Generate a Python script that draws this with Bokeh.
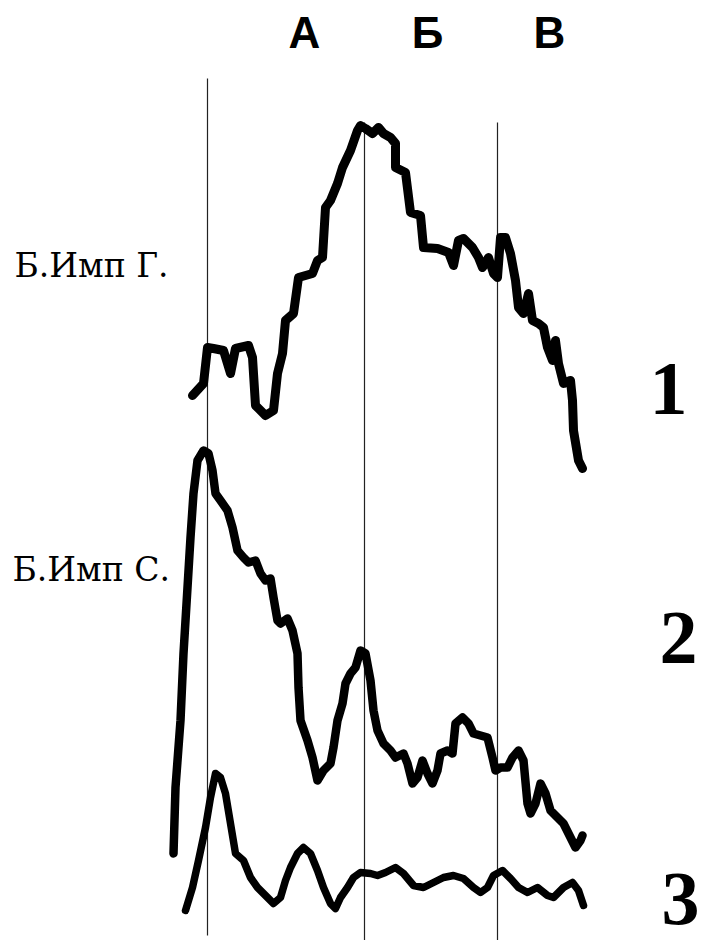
from bokeh.plotting import figure
from bokeh.models import Range1d
from bokeh.embed import file_html
from bokeh.resources import INLINE
from bokeh.core.properties import value

curve1_x = [192, 203, 207, 213, 223, 230, 235, 248, 252, 255, 265, 273, 277, 282, 285, 293, 298, 312, 317, 322,
            325, 330, 337, 342, 350, 357, 360, 365, 372, 378, 383, 390, 395, 395, 405, 410, 420, 423, 437, 448,
            453, 458, 463, 472, 478, 482, 488, 493, 497, 500, 505, 510, 515, 518, 523, 528, 532, 538, 543, 547,
            552, 555, 558, 563, 570, 572, 573, 578, 582]
curve1_y = [395, 383, 347, 348, 350, 373, 348, 345, 357, 405, 415, 410, 373, 353, 320, 313, 277, 273, 260, 257,
            207, 200, 183, 167, 150, 130, 125, 128, 133, 127, 133, 137, 143, 167, 172, 212, 215, 247, 248, 252,
            265, 240, 238, 247, 257, 267, 257, 273, 277, 237, 237, 253, 280, 307, 313, 293, 320, 323, 327, 347,
            360, 340, 363, 383, 380, 400, 430, 460, 468]

curve2_x = [173, 175, 180, 183, 187, 190, 193, 197, 203, 208, 212, 215, 220, 227, 232, 237, 243, 248, 255, 260,
            265, 270, 273, 277, 280, 287, 292, 297, 298, 300, 307, 312, 317, 323, 330, 333, 337, 342, 345, 350,
            355, 360, 365, 370, 373, 377, 383, 390, 395, 403, 407, 412, 417, 422, 427, 432, 437, 440, 447, 452,
            455, 462, 468, 473, 480, 487, 492, 495, 500, 507, 512, 518, 523, 527, 530, 535, 540, 545, 550, 557,
            563, 568, 575, 580, 582]
curve2_y = [853, 787, 720, 653, 587, 537, 493, 460, 450, 453, 470, 493, 500, 510, 527, 550, 557, 562, 560, 573,
            580, 578, 597, 620, 623, 618, 630, 653, 687, 720, 740, 757, 780, 770, 763, 747, 720, 703, 683, 673,
            667, 650, 653, 680, 710, 730, 743, 750, 757, 753, 763, 783, 777, 760, 773, 783, 770, 753, 750, 753,
            723, 717, 723, 733, 735, 737, 757, 770, 767, 767, 757, 750, 760, 803, 813, 803, 783, 793, 810, 817,
            823, 833, 847, 840, 835]

curve3_x = [185, 192, 198, 205, 210, 215, 220, 225, 230, 235, 243, 250, 257, 265, 273, 280, 285, 290, 297, 303,
            310, 317, 323, 330, 335, 340, 347, 353, 360, 370, 377, 385, 395, 403, 413, 423, 433, 443, 453, 463,
            473, 480, 487, 493, 502, 510, 518, 527, 537, 547, 553, 563, 572, 578, 583]
curve3_y = [910, 887, 860, 827, 797, 773, 777, 793, 823, 853, 860, 877, 887, 895, 903, 897, 880, 867, 853, 847,
            853, 870, 887, 903, 908, 897, 887, 877, 872, 873, 875, 872, 867, 873, 885, 887, 882, 877, 875, 878,
            887, 892, 887, 875, 870, 878, 887, 892, 887, 895, 897, 887, 882, 890, 905]

marker_x = [207, 364, 497]
marker_top = [78, 122, 122]
marker_bottom = [935, 940, 940]

column_labels = ["А", "Б", "В"]
column_label_x = [304, 427, 549]
column_label_y = [32, 32, 32]

row_labels = ["Б.Имп Г.", "Б.Имп С."]
row_label_x = [14, 12]
row_label_y = [265, 569]

curve_numbers = ["1", "2", "3"]
curve_number_x = [668, 678, 680]
curve_number_y = [388, 637, 898]

# ---- figure ----
p = figure(width=703, height=940, output_backend="svg", toolbar_location=None,
           x_range=Range1d(0, 703), y_range=Range1d(940, 0), min_border=0)
p.axis.visible = False
p.grid.visible = False
p.outline_line_color = None
p.background_fill_color = "white"
p.border_fill_color = "white"

p.segment(x0=marker_x, y0=marker_top, x1=marker_x, y1=marker_bottom,
          line_color="#222222", line_width=1.2)

p.line(curve1_x, curve1_y, line_color="black", line_width=9, line_join="round", line_cap="round")
p.line(curve2_x, curve2_y, line_color="black", line_width=8.5, line_join="round", line_cap="round")
p.line(curve3_x, curve3_y, line_color="black", line_width=7.5, line_join="round", line_cap="round")

p.text(x=column_label_x, y=column_label_y, text=column_labels,
       text_font=value("Liberation Sans"), text_font_style="bold", text_font_size="44px",
       text_align="center", text_baseline="middle", text_color="black")

p.text(x=row_label_x, y=row_label_y, text=row_labels,
       text_font=value("DejaVu Serif"), text_font_size="33px",
       text_align="left", text_baseline="middle", text_color="black")

p.text(x=curve_number_x, y=curve_number_y, text=curve_numbers,
       text_font=value("Liberation Serif"), text_font_style="bold", text_font_size="76px",
       text_align="center", text_baseline="middle", text_color="black")

open("out.html", "w").write(file_html(p, INLINE))
